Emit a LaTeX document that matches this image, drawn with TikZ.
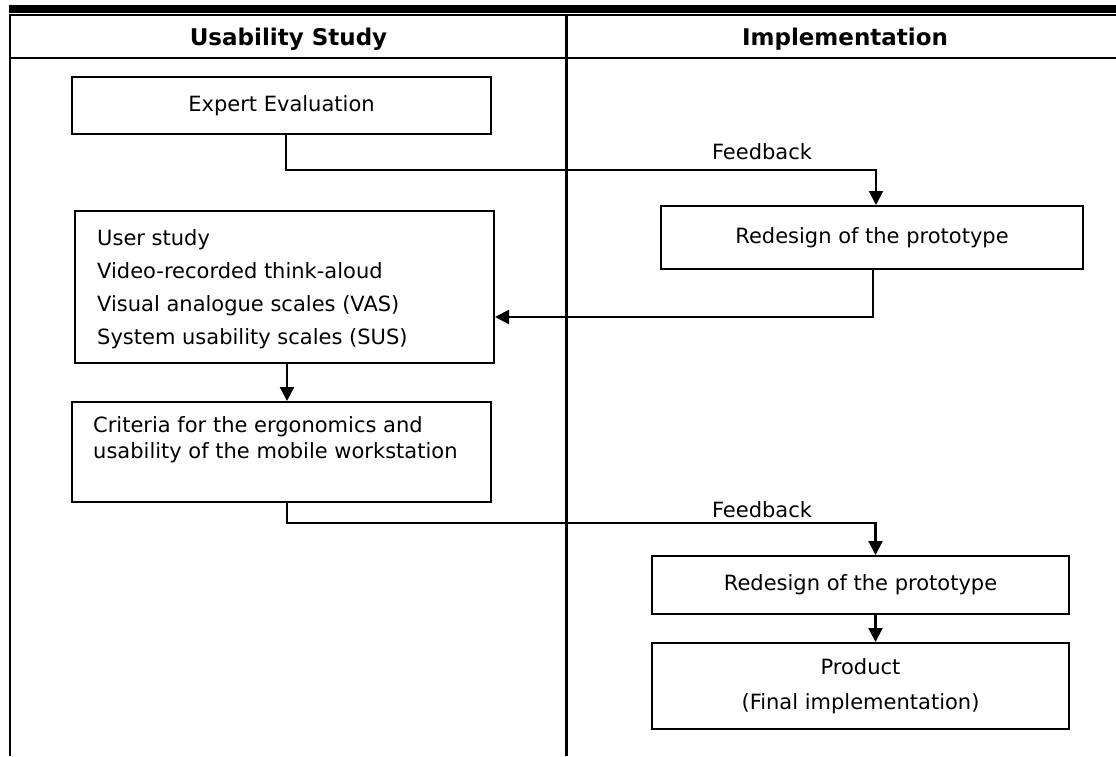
\documentclass[tikz,border=0pt]{standalone}
\usepackage{fontspec}
\setmainfont{DejaVu Sans}
\usetikzlibrary{arrows.meta,calc}
\begin{document}
\begin{tikzpicture}[x=1pt,y=-1pt,
  box/.style={draw, line width=2pt, inner sep=0pt, font=\fontsize{21}{25}\selectfont},
  txt/.style={inner sep=0pt, font=\fontsize{21}{25}\selectfont},
  hdr/.style={inner sep=0pt, anchor=base, font=\fontsize{23}{27}\selectfont\bfseries},
  arr/.style={line width=2.2pt, -{Triangle[length=14pt,width=14pt]}},
  rulethin/.style={line width=2pt},
  rulethick/.style={line width=2.5pt}]
\useasboundingbox (0,0) rectangle (1116,756);
% table frame
\fill (9,5) rectangle (1116,12.5);
\draw[line width=1.7pt] (9,15.3) -- (1116,15.3);
\draw[line width=2.3pt] (10,15) -- (10,756);
\draw[rulethin] (10,58) -- (1116,58);
\draw[rulethick] (566.7,15) -- (566.7,756);
% headers
\node[hdr] (h1) at (288.5,45) {Usability Study};
\node[hdr] (h2) at (845,45) {Implementation};
% boxes
\node[box, minimum width=419pt, minimum height=57pt] (expert) at (281.5,105.5) {Expert Evaluation};
\node[box, minimum width=419pt, minimum height=152pt] (user) at (284.5,287) {};
\node[txt, anchor=west, align=left, font=\fontsize{21}{33}\selectfont] (usertxt) at (97,289)
  {User study\\Video-recorded think-aloud\\Visual analogue scales (VAS)\\System usability scales (SUS)};
\node[box, minimum width=419pt, minimum height=100pt] (crit) at (281.5,452) {};
\node[txt, anchor=west, align=left, font=\fontsize{21}{26}\selectfont] (crittxt) at (93,440)
  {Criteria for the ergonomics and\\usability of the mobile workstation};
\node[box, minimum width=422pt, minimum height=63pt] (red1) at (872,237.5) {Redesign of the prototype};
\node[box, minimum width=417pt, minimum height=58pt] (red2) at (860.5,585) {Redesign of the prototype};
\node[box, minimum width=417pt, minimum height=86pt, align=center, font=\fontsize{21}{35}\selectfont] (prod) at (860.5,686)
  {Product\\(Final implementation)};
% labels
\node[txt] (fbl1) at (762,152) {Feedback};
\node[txt] (fbl2) at (762,510) {Feedback};
% connectors
\coordinate (fb1) at (700,170);
\coordinate (fb2) at (700,523);
\draw[arr] ([xshift=4.5pt]expert.south) |- (fb1) -| ([xshift=4pt]red1.north);
\draw[arr] ([xshift=1pt]red1.south) |- ([yshift=-30pt]user.east);
\draw[arr] ([xshift=2.5pt]user.south) -- ([xshift=2.5pt]user.south |- crit.north);
\draw[arr] ([xshift=5.5pt]crit.south) |- (fb2) -| ([xshift=15pt]red2.north);
\draw[arr] ([xshift=15pt]red2.south) -- ([xshift=15pt]prod.north);
\end{tikzpicture}
\end{document}
